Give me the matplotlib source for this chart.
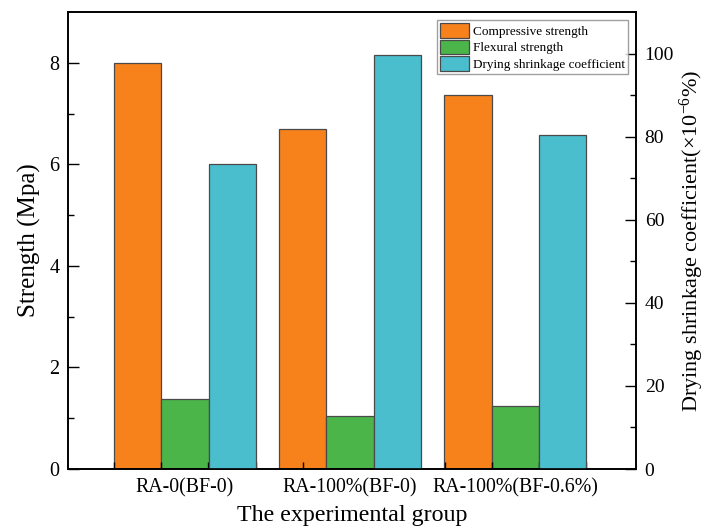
import matplotlib
matplotlib.use('Agg')
import matplotlib.pyplot as plt
import numpy as np

# 数据
groups = ['RA-0(BF-0)', 'RA-100%(BF-0)', 'RA-100%(BF-0.6%)']
compressive = [8.0, 6.7, 7.37]
flexural = [1.38, 1.05, 1.25]
shrinkage = [73.4, 99.6, 80.4]

plt.rcParams['font.family'] = ['Liberation Serif', 'DejaVu Serif']
plt.rcParams['mathtext.fontset'] = 'custom'
plt.rcParams['mathtext.rm'] = 'Liberation Serif'
plt.rcParams['mathtext.it'] = 'Liberation Serif:italic'

fig = plt.figure(figsize=(7.07, 5.29), dpi=100)
ax = fig.add_axes([0.096, 0.1134, 0.804, 0.8639])
ax2 = ax.twinx()

x = np.arange(1, len(groups) + 1)
w = 0.287
edge = '#4a4a4a'

b1 = ax.bar(x - w, compressive, w, color='#F7821B', edgecolor=edge, linewidth=0.9, label='Compressive strength')
b2 = ax.bar(x, flexural, w, color='#4BB54A', edgecolor=edge, linewidth=0.9, label='Flexural strength')
b3 = ax2.bar(x + w, shrinkage, w, color='#4BBECD', edgecolor=edge, linewidth=0.9, label='Drying shrinkage coefficient')

ax.set_xlim(0.291, 3.733)
ax.set_ylim(0, 9)
ax2.set_ylim(0, 110)

# 坐标轴刻度
ax.set_xticks(x)
ax.set_xticklabels(groups, fontsize=14.3)
ax.tick_params(axis='x', length=0, pad=7)
ax.set_xticks(np.linspace(1 - 1.5 * w, 3 + 1.5 * w, 11), minor=True)
ax.tick_params(axis='x', which='minor', direction='in', length=5, width=1)

ax.set_yticks([0, 2, 4, 6, 8])
ax.set_yticks([1, 3, 5, 7], minor=True)
ax.tick_params(axis='y', which='major', direction='in', length=8, width=1, labelsize=14.5, pad=6)
ax.tick_params(axis='y', which='minor', direction='in', length=4, width=1)

ax2.set_yticks([0, 20, 40, 60, 80, 100])
ax2.set_yticks([10, 30, 50, 70, 90], minor=True)
ax2.tick_params(axis='y', which='major', direction='in', length=8, width=1, labelsize=14, pad=6)
ax2.tick_params(axis='y', which='minor', direction='in', length=4, width=1)

for a in (ax, ax2):
    for s in a.spines.values():
        s.set_linewidth(1.2)

ax.set_ylabel('Strength (Mpa)', fontsize=18, labelpad=6)
ax.set_xlabel('The experimental group', fontsize=17.3, labelpad=5)
ax2.set_ylabel(r'Drying shrinkage coefficient($\times$10$^{-6}$%)', fontsize=16, labelpad=3)

leg = ax2.legend([b1, b2, b3], ['Compressive strength', 'Flexural strength', 'Drying shrinkage coefficient'],
                 loc='upper right', fontsize=9.5, frameon=True, fancybox=False, edgecolor='#888888',
                 handlelength=2.2, handleheight=1.3, handletextpad=0.3, labelspacing=0.15,
                 borderpad=0.25, borderaxespad=0.6)
leg.get_frame().set_linewidth(1.0)

fig.savefig('out.png', dpi=100)
